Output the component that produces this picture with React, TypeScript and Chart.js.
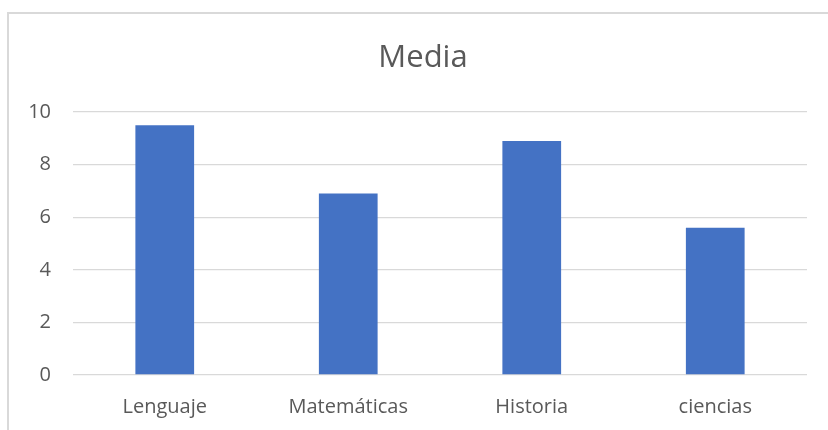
import React, { useEffect, useRef } from "react";
import { Chart, registerables } from "chart.js";

Chart.register(...registerables);

const categories: string[] = ["Lenguaje", "Matemáticas", "Historia", "ciencias"];
const mediaValues: number[] = [9.5, 6.9, 8.9, 5.6];
const chartTitle = "Media";
const yMin = 0;
const yMax = 10;
const yStep = 2;

const FONT = "'Open Sans', sans-serif";

const titlePlugin = {
  id: "excelTitle",
  afterDraw(chart: any) {
    const ctx = chart.ctx;
    ctx.save();
    ctx.font = `31px ${FONT}`;
    ctx.fillStyle = "#595959";
    ctx.textAlign = "center";
    ctx.textBaseline = "alphabetic";
    ctx.fillText(chartTitle, 423, 67);
    ctx.restore();
  },
};

export default function App() {
  const canvasRef = useRef<HTMLCanvasElement | null>(null);

  useEffect(() => {
    if (!canvasRef.current) return;
    const chart = new Chart(canvasRef.current, {
      type: "bar",
      data: {
        labels: categories,
        datasets: [
          {
            label: chartTitle,
            data: mediaValues,
            backgroundColor: "#4472C4",
            borderWidth: 0,
            categoryPercentage: 1,
            barPercentage: 0.32,
          },
        ],
      },
      options: {
        animation: false,
        responsive: false,
        maintainAspectRatio: false,
        devicePixelRatio: 1,
        layout: { padding: { top: 112, left: 0, right: 21, bottom: 0 } },
        plugins: {
          legend: { display: false },
          title: { display: false },
          tooltip: { enabled: false },
        },
        scales: {
          x: {
            grid: { display: false, drawTicks: false },
            border: { display: false },
            ticks: {
              color: "#595959",
              font: { family: FONT, size: 20 },
              padding: 20,
              maxRotation: 0,
            },
            afterFit(scale: any) {
              scale.height = 55;
            },
          },
          y: {
            min: yMin,
            max: yMax,
            grid: { color: "#d9d9d9", lineWidth: 1.3, drawTicks: false },
            border: { display: false },
            ticks: {
              stepSize: yStep,
              color: "#595959",
              font: { family: FONT, size: 20 },
              padding: 22,
            },
            afterFit(scale: any) {
              scale.width = 73;
            },
          },
        },
      },
      plugins: [titlePlugin],
    });
    return () => chart.destroy();
  }, []);

  return (
    <div style={{ position: "fixed", left: 0, top: 0, width: 828, height: 430, background: "#ffffff", overflow: "hidden" }}>
      <div
        style={{
          position: "absolute",
          left: 7,
          top: 12,
          width: 900,
          height: 500,
          borderTop: "2px solid #d9d9d9",
          borderLeft: "2px solid #d9d9d9",
        }}
      />
      <canvas
        ref={canvasRef}
        width={828}
        height={430}
        style={{ position: "absolute", left: 0, top: 0, width: 828, height: 430 }}
      />
    </div>
  );
}
